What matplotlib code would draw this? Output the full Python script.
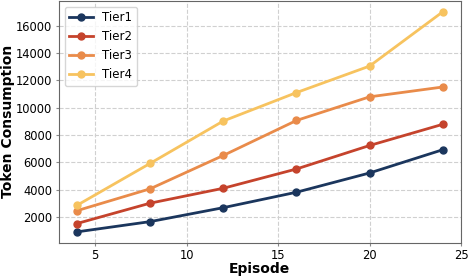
import matplotlib
matplotlib.use('Agg')
from matplotlib import pyplot as plt
from matplotlib.ticker import MultipleLocator

episodes = [4, 8, 12, 16, 20, 24]
tier1 = [910, 1660, 2680, 3810, 5220, 6920]
tier2 = [1520, 3010, 4100, 5510, 7230, 8780]
tier3 = [2460, 4060, 6500, 9060, 10790, 11510]
tier4 = [2850, 5920, 9020, 11100, 13040, 17010]

series = [('Tier1', tier1, '#1b365d'),
          ('Tier2', tier2, '#c5432c'),
          ('Tier3', tier3, '#e98b4a'),
          ('Tier4', tier4, '#f7c35f')]

fig, ax = plt.subplots(figsize=(4.69, 2.76), dpi=100)
fig.subplots_adjust(left=0.125, right=0.983, top=0.997, bottom=0.12)

for name, vals, col in series:
    ax.plot(episodes, vals, marker='o', color=col, linewidth=2, markersize=5, label=name)

ax.xaxis.set_major_locator(MultipleLocator(5))
ax.set_xlabel('Episode', fontsize=10, fontweight='bold', labelpad=0)
ax.set_ylabel('Token Consumption', fontsize=10, fontweight='bold', labelpad=1)
ax.tick_params(labelsize=8.3, length=2.5, pad=2, color='#888888')
ax.grid(True, linestyle='--', color='#d0d0d0', linewidth=0.8)
for s in ax.spines.values():
    s.set_color('#666666')
ax.legend(loc='upper left', fontsize=8.5)

plt.savefig('out.png')
